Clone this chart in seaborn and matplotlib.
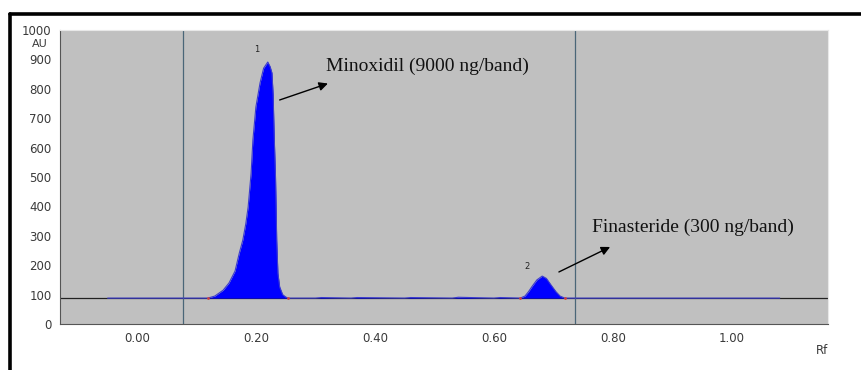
import matplotlib
matplotlib.use("Agg")
import matplotlib.pyplot as plt
from matplotlib.lines import Line2D
import numpy as np
import pandas as pd
import seaborn as sns

# Densitogram trace (Rf vs. absorbance units)
rf_trace = [-0.049, 0.119, 0.131, 0.145, 0.155, 0.165, 0.172, 0.178, 0.183, 0.187,
            0.192, 0.195, 0.200, 0.207, 0.213, 0.220, 0.224, 0.227, 0.229, 0.230,
            0.231, 0.233, 0.234, 0.235, 0.237, 0.240, 0.245, 0.250, 0.254,
            0.30, 0.31, 0.36, 0.37, 0.45, 0.46, 0.53, 0.54, 0.60, 0.61,
            0.644, 0.652, 0.658, 0.664, 0.672, 0.681, 0.688, 0.696, 0.704, 0.711,
            0.719, 1.08]
au_trace = [88, 88, 95, 115, 140, 180, 240, 285, 340, 398,
            513, 626, 738, 820, 870, 891, 875, 854, 780, 700,
            626, 500, 398, 285, 173, 126, 100, 92, 88,
            88, 90, 88, 90, 88, 90, 88, 91, 88, 90,
            88, 95, 110, 128, 150, 163, 155, 132, 110, 95,
            88, 88]

baseline_au = 88
window_rf = [0.077, 0.736]

# integration limits of each peak
bound_rf = [0.119, 0.254, 0.644, 0.719]

peak_ids = ["1", "2"]
peak_label_rf = [0.202, 0.655]
peak_label_au = [935, 194]

compound_labels = ["Minoxidil (9000 ng/band)", "Finasteride (300 ng/band)"]

x_ticks = [0.0, 0.2, 0.4, 0.6, 0.8, 1.0]
y_ticks = [0, 100, 200, 300, 400, 500, 600, 700, 800, 900, 1000]

df = pd.DataFrame({"Rf": rf_trace, "AU": au_trace})

sns.set_style("white")
plt.rcParams["font.family"] = ["DejaVu Sans"]

fig = plt.figure(figsize=(8.62, 3.70), dpi=100)
ax = fig.add_axes([60 / 862, 46 / 370, 768 / 862, 294 / 370])
ax.set_facecolor("#c0c0c0")

# integrated peak areas
ax.fill_between(df["Rf"], baseline_au, df["AU"], where=df["AU"] >= baseline_au,
                color="#0000ff", linewidth=0, zorder=2)
ax.axhline(baseline_au, color="#222222", linewidth=0.9, zorder=1)
sns.lineplot(data=df, x="Rf", y="AU", ax=ax, color="#3a3ad0", linewidth=0.8,
             sort=False, zorder=3)
sns.scatterplot(x=bound_rf, y=[baseline_au] * len(bound_rf), ax=ax,
                color="#d04040", s=4, linewidth=0, zorder=4)

for xv in window_rf:
    ax.axvline(xv, color="#4a6678", linewidth=0.9, zorder=1)

ax.set_xlim(-0.129, 1.161)
ax.set_ylim(0, 1000)
ax.set_xticks(x_ticks)
ax.set_xticklabels([f"{v:.2f}" for v in x_ticks])
ax.set_yticks(y_ticks)
ax.set_yticklabels([str(v) for v in y_ticks])
ax.tick_params(axis="both", direction="out", length=4, width=0.8, color="#444444",
               labelsize=8.5, labelcolor="#3a3a3a", pad=2)
ax.set_xlabel("")
ax.set_ylabel("")

for side in ["left", "bottom"]:
    ax.spines[side].set_color("#555555")
    ax.spines[side].set_linewidth(0.8)
for side in ["top", "right"]:
    ax.spines[side].set_color("#e8e8e8")
    ax.spines[side].set_linewidth(0.8)

# peak numbers
for pid, xv, yv in zip(peak_ids, peak_label_rf, peak_label_au):
    ax.text(xv, yv, pid, ha="center", va="center", fontsize=6, color="#222222")

# compound annotations with arrows
ax.annotate("", xy=(0.321, 818), xytext=(0.240, 762),
            arrowprops=dict(arrowstyle="-|>", color="black", lw=1.0,
                            mutation_scale=13, shrinkA=0, shrinkB=0))
ax.text(0.318, 878, compound_labels[0], family="Liberation Serif", fontsize=14,
        color="#111111", ha="left", va="center")

ax.annotate("", xy=(0.795, 262), xytext=(0.709, 177),
            arrowprops=dict(arrowstyle="-|>", color="black", lw=1.0,
                            mutation_scale=13, shrinkA=0, shrinkB=0))
ax.text(0.764, 330, compound_labels[1], family="Liberation Serif", fontsize=14,
        color="#111111", ha="left", va="center")

fig.text(40 / 862, 1 - 44 / 370, "AU", fontsize=8, color="#3a3a3a",
         ha="center", va="center")
fig.text(822 / 862, 1 - 351 / 370, "Rf", fontsize=8.5, color="#3a3a3a",
         ha="center", va="center")

# page frame (top and left edges)
fig.add_artist(Line2D([10 / 862, 1.0], [1 - 13.5 / 370, 1 - 13.5 / 370],
                      transform=fig.transFigure, color="black", linewidth=2.6))
fig.add_artist(Line2D([10 / 862, 10 / 862], [0.0, 1 - 13.5 / 370],
                      transform=fig.transFigure, color="black", linewidth=2.6))

fig.savefig("out.png", dpi=100, facecolor="white")
